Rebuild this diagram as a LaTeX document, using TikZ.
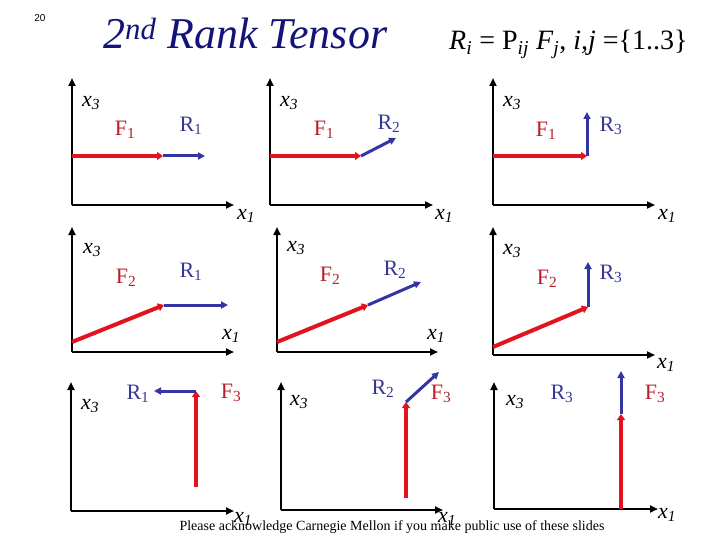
\documentclass[tikz,border=0pt]{standalone}
\usepackage{fontspec}
\setmainfont{Liberation Serif}
\newfontfamily\sansf{Liberation Sans}
\usetikzlibrary{arrows.meta}
\definecolor{fred}{RGB}{226,18,30}
\definecolor{flab}{RGB}{185,30,40}
\definecolor{rblue}{RGB}{52,52,165}
\definecolor{rlab}{RGB}{55,55,150}
\definecolor{navy}{RGB}{20,20,120}
\begin{document}
\begin{tikzpicture}[x=1pt,y=-1pt,
  axis/.style={line width=2.3pt,-{Triangle[length=8pt,width=7pt]}},
  fvec/.style={draw=fred,line width=4pt,-{Triangle[length=6pt,width=8pt]}},
  rvec/.style={draw=rblue,line width=3pt,-{Triangle[length=7pt,width=7pt]}},
  axlab/.style={font=\fontsize{22}{24}\selectfont\itshape},
  flabel/.style={text=flab,font=\fontsize{22}{24}\selectfont},
  rlabel/.style={text=rlab,font=\fontsize{22}{24}\selectfont}]
\useasboundingbox (0,0) rectangle (720,540);

% header
\node[font=\sansf\fontsize{10}{11}\selectfont] (pg) at (40,18) {20};
\node[anchor=base west,text=navy,font=\fontsize{44}{46}\selectfont\itshape,inner sep=0pt] (title) at (103,49) {2\textsuperscript{nd} Rank Tensor};
\node[anchor=base west,font=\fontsize{28}{30}\selectfont,inner sep=0pt] (eq) at (449,50) {\textit{R}\textsubscript{\textit{i}} = P\textsubscript{\textit{ij}} \textit{F}\textsubscript{\textit{j}}, \textit{i,j} =\{1..3\}};
\node[font=\fontsize{14}{15}\selectfont] (foot) at (392,527) {Please acknowledge Carnegie Mellon if you make public use of these slides};

% ---------- row 1 ----------
% panel 1
\coordinate (o11) at (72,205); \coordinate (y11) at (72,78); \coordinate (x11) at (234,205);
\coordinate (fa11) at (72,156); \coordinate (fb11) at (163,156); \coordinate (rb11) at (205,156);
\draw[axis] (o11) -- (y11); \draw[axis] (o11) -- (x11);
\draw[fvec] (fa11) -- (fb11); \draw[rvec] (fb11) -- (rb11);
\node[axlab] (lx311) at (91,103) {x\textsubscript{3}};
\node[axlab] (lx111) at (246,216) {x\textsubscript{1}};
\node[flabel] (lf11) at (125,130) {F\textsubscript{1}};
\node[rlabel] (lr11) at (191,126) {R\textsubscript{1}};
% panel 2
\coordinate (o12) at (270,205); \coordinate (y12) at (270,78); \coordinate (x12) at (433,205);
\coordinate (fa12) at (270,156); \coordinate (fb12) at (361,156); \coordinate (rb12) at (396,138);
\draw[axis] (o12) -- (y12); \draw[axis] (o12) -- (x12);
\draw[fvec] (fa12) -- (fb12); \draw[rvec] (fb12) -- (rb12);
\node[axlab] (lx312) at (289,103) {x\textsubscript{3}};
\node[axlab] (lx112) at (444,216) {x\textsubscript{1}};
\node[flabel] (lf12) at (324,130) {F\textsubscript{1}};
\node[rlabel] (lr12) at (389,124) {R\textsubscript{2}};
% panel 3
\coordinate (o13) at (493,205); \coordinate (y13) at (493,78); \coordinate (x13) at (655,205);
\coordinate (fa13) at (493,156); \coordinate (fb13) at (587,156); \coordinate (rb13) at (587,112);
\draw[axis] (o13) -- (y13); \draw[axis] (o13) -- (x13);
\draw[fvec] (fa13) -- (fb13); \draw[rvec] (fb13) -- (rb13);
\node[axlab] (lx313) at (512,103) {x\textsubscript{3}};
\node[axlab] (lx113) at (667,216) {x\textsubscript{1}};
\node[flabel] (lf13) at (546,131) {F\textsubscript{1}};
\node[rlabel] (lr13) at (611,126) {R\textsubscript{3}};

% ---------- row 2 ----------
\coordinate (o21) at (72,352); \coordinate (y21) at (72,227); \coordinate (x21) at (234,352);
\coordinate (fa21) at (72,342); \coordinate (fb21) at (164,305); \coordinate (rb21) at (228,305);
\draw[axis] (o21) -- (y21); \draw[axis] (o21) -- (x21);
\draw[fvec] (fa21) -- (fb21); \draw[rvec] (fb21) -- (rb21);
\node[axlab] (lx321) at (92,250) {x\textsubscript{3}};
\node[axlab] (lx121) at (231,336) {x\textsubscript{1}};
\node[flabel] (lf21) at (126,278) {F\textsubscript{2}};
\node[rlabel] (lr21) at (191,272) {R\textsubscript{1}};

\coordinate (o22) at (277,352); \coordinate (y22) at (277,227); \coordinate (x22) at (438,352);
\coordinate (fa22) at (277,342); \coordinate (fb22) at (368,305); \coordinate (rb22) at (421,282);
\draw[axis] (o22) -- (y22); \draw[axis] (o22) -- (x22);
\draw[fvec] (fa22) -- (fb22); \draw[rvec] (fb22) -- (rb22);
\node[axlab] (lx322) at (296,248) {x\textsubscript{3}};
\node[axlab] (lx122) at (436,336) {x\textsubscript{1}};
\node[flabel] (lf22) at (330,276) {F\textsubscript{2}};
\node[rlabel] (lr22) at (395,270) {R\textsubscript{2}};

\coordinate (o23) at (493,355); \coordinate (y23) at (493,227); \coordinate (x23) at (655,355);
\coordinate (fa23) at (493,347); \coordinate (fb23) at (588,307); \coordinate (rb23) at (588,262);
\draw[axis] (o23) -- (y23); \draw[axis] (o23) -- (x23);
\draw[fvec] (fa23) -- (fb23); \draw[rvec] (fb23) -- (rb23);
\node[axlab] (lx323) at (512,251) {x\textsubscript{3}};
\node[axlab] (lx123) at (666,365) {x\textsubscript{1}};
\node[flabel] (lf23) at (547,279) {F\textsubscript{2}};
\node[rlabel] (lr23) at (611,274) {R\textsubscript{3}};

% ---------- row 3 ----------
\coordinate (o31) at (71,511); \coordinate (y31) at (71,382); \coordinate (x31) at (234,511);
\coordinate (fa31) at (196,487); \coordinate (fb31) at (196,391); \coordinate (rb31) at (154,391);
\draw[axis] (o31) -- (y31); \draw[axis] (o31) -- (x31);
\draw[fvec] (fa31) -- (fb31); \draw[rvec] (fb31) -- (rb31);
\node[axlab] (lx331) at (90,406) {x\textsubscript{3}};
\node[axlab] (lx131) at (243,519) {x\textsubscript{1}};
\node[rlabel] (lr31) at (138,394) {R\textsubscript{1}};
\node[flabel] (lf31) at (231,393) {F\textsubscript{3}};

\coordinate (o32) at (281,510); \coordinate (y32) at (281,382); \coordinate (x32) at (443,510);
\coordinate (fa32) at (406,498); \coordinate (fb32) at (406,402); \coordinate (rb32) at (439,372);
\draw[axis] (o32) -- (y32); \draw[axis] (o32) -- (x32);
\draw[fvec] (fa32) -- (fb32); \draw[rvec] (fb32) -- (rb32);
\node[axlab] (lx332) at (299,402) {x\textsubscript{3}};
\node[axlab] (lx132) at (447,519) {x\textsubscript{1}};
\node[rlabel] (lr32) at (383,389) {R\textsubscript{2}};
\node[flabel] (lf32) at (441,394) {F\textsubscript{3}};

\coordinate (o33) at (494,509); \coordinate (y33) at (494,382); \coordinate (x33) at (658,509);
\coordinate (fa33) at (621,509); \coordinate (fb33) at (621,414); \coordinate (rb33) at (621,371);
\draw[axis] (o33) -- (y33); \draw[axis] (o33) -- (x33);
\draw[fvec] (fa33) -- (fb33); \draw[rvec] (fb33) -- (rb33);
\node[axlab] (lx333) at (515,402) {x\textsubscript{3}};
\node[axlab] (lx133) at (667,515) {x\textsubscript{1}};
\node[rlabel] (lr33) at (562,394) {R\textsubscript{3}};
\node[flabel] (lf33) at (655,394) {F\textsubscript{3}};
\end{tikzpicture}
\end{document}
